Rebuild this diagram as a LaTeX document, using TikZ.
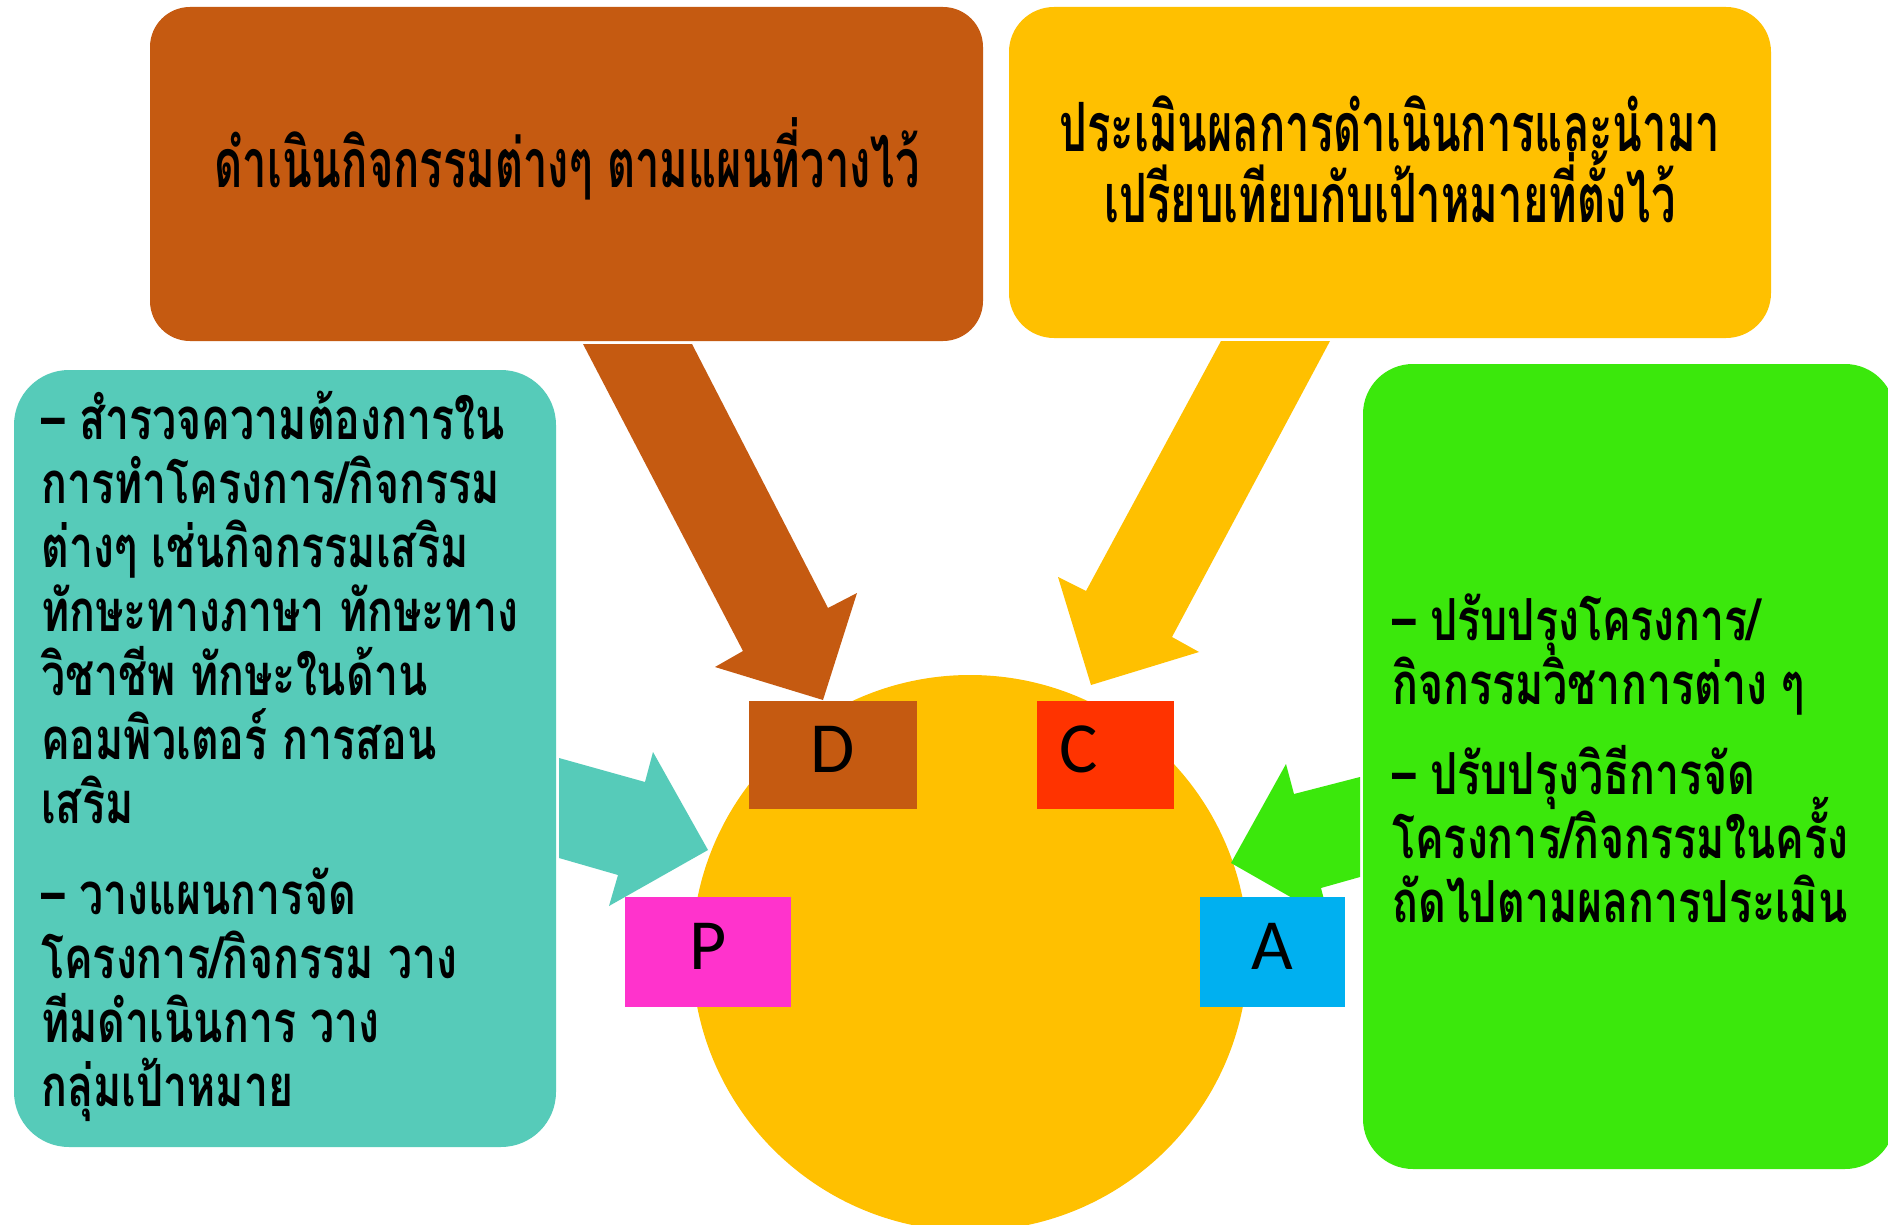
\documentclass[tikz,border=0pt]{standalone}
\usepackage{fontspec}
\newfontfamily\thaitop[Script=Thai,FakeStretch=0.64]{Loma}
\newfontfamily\thaibody[Script=Thai,FakeStretch=0.74]{Loma}
\newfontfamily\latinlbl{Carlito}
\definecolor{cbrown}{HTML}{C55A11}
\definecolor{cyellow}{HTML}{FFC000}
\definecolor{cteal}{HTML}{56CBB9}
\definecolor{cgreen}{HTML}{3BE80C}
\definecolor{cred}{HTML}{FF3300}
\definecolor{cpink}{HTML}{FF33CC}
\definecolor{cblue}{HTML}{00B0F0}
\begin{document}
\begin{tikzpicture}[x=1pt,y=-1pt,
  toptext/.style={inner sep=0pt,anchor=base,font=\thaitop\bfseries\fontsize{68}{72}\selectfont},
  bodytext/.style={inner sep=0pt,anchor=base west,font=\thaibody\bfseries\fontsize{58}{64}\selectfont},
  letterbox/.style={inner sep=0pt,minimum width=#1,text height=46pt,text depth=12pt,font=\latinlbl\fontsize{72}{80}\selectfont},
  letterbox/.default=168pt
]
\useasboundingbox (0,0) rectangle (1888,1225);
\clip (0,0) rectangle (1888,1225);
\fill[white] (0,0) rectangle (1888,1225);

% central circle
\fill[cyellow] (970,953) circle (278);

% block arrows
\fill[cbrown] (583,344) -- (692,344) -- (828,608) -- (857,593) -- (823,700) -- (715,667) -- (743,651) -- cycle;
\fill[cyellow] (1221,341) -- (1330,341) -- (1172,637) -- (1199,652) -- (1091,685) -- (1058,577) -- (1086,591) -- cycle;
\fill[cteal] (559,758) -- (645,782) -- (653,752) -- (708,850) -- (609,906) -- (618,875) -- (559,858) -- cycle;
\fill[cgreen] (1360,777) -- (1294,794) -- (1286,764) -- (1231,863) -- (1329,919) -- (1321,888) -- (1360,877) -- cycle;

% top boxes
\fill[cbrown,rounded corners=40pt] (150,7) rectangle (983,341);
\fill[cyellow,rounded corners=45pt] (1009,7) rectangle (1771,338);
% side boxes
\fill[cteal,rounded corners=55pt] (14,370) rectangle (556,1147);
\fill[cgreen,rounded corners=50pt] (1363,364) rectangle (1895,1169);

% top texts
\node[toptext] (dtext) at (567,188) {ดำเนินกิจกรรมต่างๆ ตามแผนที่วางไว้};
\node[toptext] (ctext1) at (1390,152) {ประเมินผลการดำเนินการและนำมา};
\node[toptext] (ctext2) at (1390,223) {เปรียบเทียบกับเป้าหมายที่ตั้งไว้};

% left text
\node[bodytext] (p1) at (41,439) {– สำรวจความต้องการใน};
\node[bodytext] (p2) at (41,503) {การทำโครงการ/กิจกรรม};
\node[bodytext] (p3) at (41,567) {ต่างๆ เช่นกิจกรรมเสริม};
\node[bodytext] (p4) at (41,631) {ทักษะทางภาษา ทักษะทาง};
\node[bodytext] (p5) at (41,695) {วิชาชีพ ทักษะในด้าน};
\node[bodytext] (p6) at (41,759) {คอมพิวเตอร์ การสอน};
\node[bodytext] (p7) at (41,823) {เสริม};
\node[bodytext] (p8) at (41,914) {– วางแผนการจัด};
\node[bodytext] (p9) at (41,978) {โครงการ/กิจกรรม วาง};
\node[bodytext] (p10) at (41,1042) {ทีมดำเนินการ วาง};
\node[bodytext] (p11) at (41,1106) {กลุ่มเป้าหมาย};

% right text
\node[bodytext] (a1) at (1392,640) {– ปรับปรุงโครงการ/};
\node[bodytext] (a2) at (1392,704) {กิจกรรมวิชาการต่าง ๆ};
\node[bodytext] (a3) at (1392,794) {– ปรับปรุงวิธีการจัด};
\node[bodytext] (a4) at (1392,858) {โครงการ/กิจกรรมในครั้ง};
\node[bodytext] (a5) at (1392,922) {ถัดไปตามผลการประเมิน};

% letter boxes
\node[letterbox=168pt,fill=cbrown,minimum height=108pt] (D) at (833,755) {D};
\node[letterbox=137pt,fill=cred,minimum height=108pt] (C) at (1105.5,755) {C\rule{54pt}{0pt}};
\node[letterbox=166pt,fill=cpink,minimum height=110pt] (P) at (708,952) {P};
\node[letterbox=145pt,fill=cblue,minimum height=110pt] (A) at (1272.5,952) {A};
\end{tikzpicture}
\end{document}
